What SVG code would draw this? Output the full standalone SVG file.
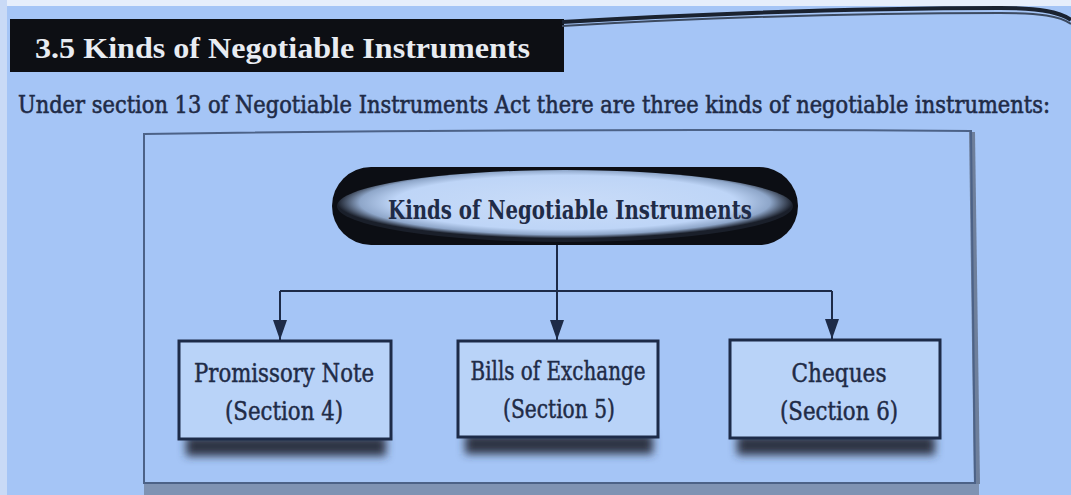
<svg xmlns="http://www.w3.org/2000/svg" width="1071" height="495" viewBox="0 0 1071 495">
  <defs>
    <style>
      .bg { fill: #a5c5f6; }
      .frame { fill: none; stroke: #4c6287; stroke-width: 2; }
      .box { fill: #b9d3f8; stroke: #1d2b48; stroke-width: 3; }
      .line { fill: none; stroke: #1d2b48; stroke-width: 2; }
      .txt { font-family: "DejaVu Serif", "Liberation Serif", serif; fill: #1f2b47; stroke: #1f2b47; stroke-width: 0.5; text-anchor: middle; }
      .btxt { font-family: "DejaVu Serif", "Liberation Serif", serif; fill: #1f2b47; font-weight: bold; text-anchor: middle; }
    </style>
    <marker id="arr" markerWidth="20" markerHeight="14" refX="20" refY="7" orient="auto" markerUnits="userSpaceOnUse" viewBox="0 0 20 14">
      <path d="M0,0 L20,7 L0,14 Z" fill="#1d2b48"/>
    </marker>
    <filter id="sh" x="-10%" y="-50%" width="120%" height="200%">
      <feGaussianBlur stdDeviation="4"/>
    </filter>
    <radialGradient id="ell" cx="50%" cy="45%" r="50%">
      <stop offset="0" stop-color="#c9dcf8"/>
      <stop offset="0.75" stop-color="#bed5f7"/>
      <stop offset="0.9" stop-color="#8ea6c9"/>
      <stop offset="1" stop-color="#1a1f2a"/>
    </radialGradient>
  </defs>

  <rect class="bg" x="0" y="0" width="1071" height="495"/>
  <rect x="0" y="0" width="1071" height="6" fill="#e6eefb"/>
  <rect x="0" y="0" width="7" height="495" fill="#c9daf6"/>

  <!-- heading -->
  <g id="heading">
    <rect x="10" y="19" width="554" height="53" fill="#0d0f14"/>
    <path d="M562,22 C700,14 850,8 1000,8 C1040,8 1060,12 1071,20" fill="none" stroke="#1a2230" stroke-width="4"/>
    <path d="M562,26 C700,18 850,13 1000,13 C1040,13 1060,16 1071,24" fill="none" stroke="#3c4a60" stroke-width="2"/>
    <text x="35" y="58" font-family="Liberation Serif, serif" font-weight="bold" font-size="30" fill="#e8ecf2" textLength="495" lengthAdjust="spacingAndGlyphs">3.5  Kinds of Negotiable Instruments</text>
  </g>

  <text id="intro" transform="translate(18,113) scale(1,1.25)" x="0" y="0" font-family="DejaVu Serif, Liberation Serif, serif" font-stretch="condensed" font-size="20" fill="#1f2b47" stroke="#1f2b47" stroke-width="0.45" textLength="1032" lengthAdjust="spacingAndGlyphs">Under section 13 of Negotiable Instruments Act there are three kinds of negotiable instruments:</text>

  <!-- frame -->
  <g id="frame">
    <rect x="144" y="484" width="835" height="11" fill="#7f93b3"/>
    <path d="M972,132 L977,484" stroke="#6e7f9b" stroke-width="6" fill="none"/>
    <path class="frame" d="M144,134 Q560,128 971,131 L975,483 L144,483 Z"/>
  </g>

  <!-- connectors -->
  <g id="connectors">
    <path class="line" d="M557,245 L557,291"/>
    <path class="line" d="M280,291 L832,291"/>
    <path class="line" d="M280,291 L280,340" marker-end="url(#arr)"/>
    <path class="line" d="M557,291 L557,340" marker-end="url(#arr)"/>
    <path class="line" d="M832,291 L832,339" marker-end="url(#arr)"/>
  </g>

  <!-- root node -->
  <g id="root">
    <rect x="332" y="167" width="466" height="78" rx="39" ry="39" fill="#0c0e14"/>
    <ellipse cx="565" cy="206" rx="228" ry="36" fill="url(#ell)"/>
    <text class="btxt" x="570" y="219" font-size="26" textLength="364" lengthAdjust="spacingAndGlyphs">Kinds of Negotiable Instruments</text>
  </g>

  <!-- child nodes -->
  <g id="promissory">
    <rect x="186" y="436" width="200" height="20" fill="#2f3644" filter="url(#sh)"/>
    <rect class="box" x="179" y="341" width="212" height="98"/>
    <text class="txt" x="284" y="382" font-size="26" textLength="180" lengthAdjust="spacingAndGlyphs">Promissory Note</text>
    <text class="txt" x="284" y="420" font-size="26" textLength="118" lengthAdjust="spacingAndGlyphs">(Section 4)</text>
  </g>

  <g id="bills">
    <rect x="465" y="434" width="188" height="20" fill="#2f3644" filter="url(#sh)"/>
    <rect class="box" x="458" y="341" width="200" height="96"/>
    <text class="txt" x="558" y="380" font-size="26" textLength="175" lengthAdjust="spacingAndGlyphs">Bills of Exchange</text>
    <text class="txt" x="559" y="418" font-size="26" textLength="112" lengthAdjust="spacingAndGlyphs">(Section 5)</text>
  </g>

  <g id="cheques">
    <rect x="737" y="435" width="198" height="20" fill="#2f3644" filter="url(#sh)"/>
    <rect class="box" x="730" y="340" width="210" height="98"/>
    <text class="txt" x="839" y="382" font-size="26" textLength="95" lengthAdjust="spacingAndGlyphs">Cheques</text>
    <text class="txt" x="839" y="420" font-size="26" textLength="118" lengthAdjust="spacingAndGlyphs">(Section 6)</text>
  </g>
</svg>
